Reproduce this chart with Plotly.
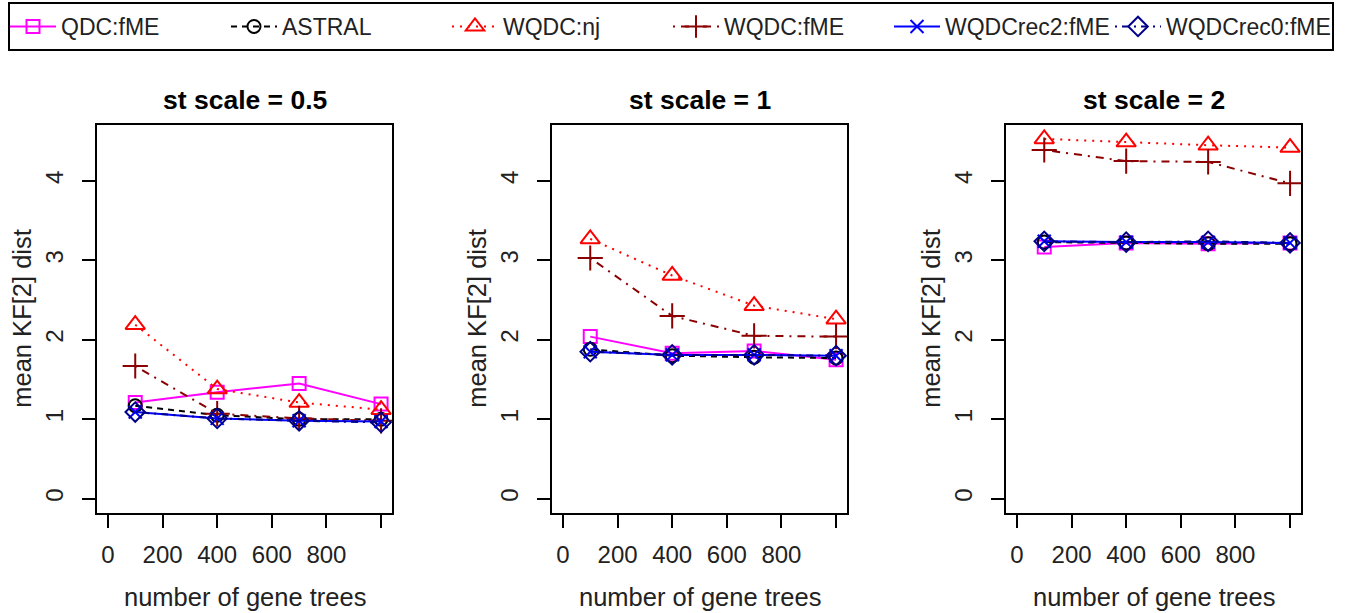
import plotly.graph_objects as go

# Number of gene trees simulated per replicate
n_trees = [100, 400, 700, 1000]

# Panel titles (species-tree branch-length scale)
panel_titles = ["st scale = 0.5", "st scale = 1", "st scale = 2"]

# Mean KF[2] distance per method, one list per scale
qdc_fme = [[1.21, 1.34, 1.45, 1.19], [2.04, 1.83, 1.86, 1.75], [3.17, 3.22, 3.21, 3.22]]
astral = [[1.17, 1.05, 1.00, 1.00], [1.88, 1.80, 1.78, 1.77], [3.23, 3.22, 3.21, 3.21]]
wqdc_nj = [[2.19, 1.38, 1.21, 1.12], [3.27, 2.81, 2.43, 2.26], [4.53, 4.49, 4.45, 4.42]]
wqdc_fme = [[1.67, 1.07, 1.01, 0.98], [3.03, 2.30, 2.05, 2.04], [4.39, 4.25, 4.24, 3.97]]
wqdcrec2_fme = [[1.09, 1.01, 0.98, 0.97], [1.85, 1.81, 1.81, 1.80], [3.24, 3.23, 3.23, 3.22]]
wqdcrec0_fme = [[1.09, 1.01, 0.98, 0.96], [1.85, 1.81, 1.81, 1.80], [3.24, 3.23, 3.24, 3.22]]

method_names = ["QDC:fME", "ASTRAL", "WQDC:nj", "WQDC:fME", "WQDCrec2:fME", "WQDCrec0:fME"]
method_values = [qdc_fme, astral, wqdc_nj, wqdc_fme, wqdcrec2_fme, wqdcrec0_fme]

# Tick labels
x_ticks = [0, 200, 400, 600, 800, 1000]
x_tick_text = ["0", "200", "400", "600", "800", ""]
y_ticks = [0, 1, 2, 3, 4]

styles = [
    dict(color="#FF00FF", dash="solid", symbol="square-open", size=13),
    dict(color="#000000", dash="6px,5px", symbol="circle-open", size=13),
    dict(color="#FF0000", dash="2px,6px", symbol="triangle-up-open", size=17),
    dict(color="#8B0000", dash="2px,6px,8px,6px", symbol="cross-thin-open", size=18),
    dict(color="#0000FF", dash="solid", symbol="x-thin-open", size=13),
    dict(color="#00008B", dash="2px,5px,7px,5px", symbol="diamond-open", size=15),
]

W, H = 1345, 613
FONT = "Liberation Sans, Arial, Helvetica, sans-serif"
box_left = [97, 552, 1006]
box_w = 295
box_top, box_bot = 124.5, 513

# y range like R's default: data range padded by 4 %
ymax = max(v for m in method_values for panel in m for v in panel)
ypad = 0.04 * ymax
y_range = [-ypad, ymax + ypad]
xpad = 0.04 * (max(n_trees) - 0)
x_range = [0 - xpad, max(n_trees) + xpad]

fig = go.Figure()

for p in range(3):
    xa = "x" if p == 0 else f"x{p + 1}"
    ya = "y" if p == 0 else f"y{p + 1}"
    for name, vals, st in zip(method_names, method_values, styles):
        fig.add_trace(go.Scatter(
            x=n_trees, y=vals[p], name=name, mode="lines+markers",
            xaxis=xa, yaxis=ya, legendgroup=name, showlegend=(p == 0),
            line=dict(color=st["color"], width=2, dash=st["dash"]),
            marker=dict(symbol=st["symbol"], size=st["size"], color=st["color"],
                        line=dict(color=st["color"], width=2)),
        ))

y_dom = [(H - box_bot) / H, (H - box_top) / H]
axis_common = dict(showline=True, mirror=True, linecolor="black", linewidth=2,
                   ticks="outside", ticklen=13, tickwidth=2, tickcolor="black",
                   showgrid=False, zeroline=False,
                   tickfont=dict(family=FONT, size=24, color="#222"))
layout_axes = {}
annotations = []
for p in range(3):
    sfx = "" if p == 0 else str(p + 1)
    x0 = box_left[p] / W
    x1 = (box_left[p] + box_w) / W
    layout_axes[f"xaxis{sfx}"] = dict(domain=[x0, x1], range=x_range, tickvals=x_ticks,
                                      ticktext=x_tick_text, anchor=f"y{sfx}",
                                      ticklabelstandoff=6, **axis_common)
    layout_axes[f"yaxis{sfx}"] = dict(domain=y_dom, range=y_range, tickvals=y_ticks,
                                      tickangle=-90, anchor=f"x{sfx}",
                                      ticklabelstandoff=9, **axis_common)
    cx = (box_left[p] + box_w / 2) / W
    annotations.append(dict(text=f"<b>{panel_titles[p]}</b>", x=cx, y=1 - 100 / H,
                            xref="paper", yref="paper", showarrow=False,
                            xanchor="center", yanchor="middle",
                            font=dict(family=FONT, size=26.5, color="black")))
    annotations.append(dict(text="number of gene trees", x=cx, y=1 - 597 / H,
                            xref="paper", yref="paper", showarrow=False,
                            xanchor="center", yanchor="middle",
                            font=dict(family=FONT, size=25.5, color="#222")))
    annotations.append(dict(text="mean KF[2] dist", x=(box_left[p] - 75) / W,
                            y=1 - ((box_top + box_bot) / 2) / H,
                            xref="paper", yref="paper", showarrow=False, textangle=-90,
                            xanchor="center", yanchor="middle",
                            font=dict(family=FONT, size=25.5, color="#222")))

fig.update_layout(
    width=W, height=H, margin=dict(l=0, r=0, t=0, b=0),
    paper_bgcolor="white", plot_bgcolor="white",
    annotations=annotations,
    shapes=[dict(type="rect", xref="paper", yref="paper",
                 x0=9 / W, x1=1333 / W, y0=1 - 50 / H, y1=1 - 3 / H,
                 line=dict(color="black", width=2), fillcolor="rgba(0,0,0,0)")],
    legend=dict(orientation="h", x=5 / W, y=1 - 5 / H, xanchor="left", yanchor="top",
                entrywidth=160, entrywidthmode="pixels", itemwidth=46,
                bgcolor="rgba(0,0,0,0)", borderwidth=0,
                font=dict(family=FONT, size=23, color="#222")),
    **layout_axes,
)

fig.write_html("out.html")
